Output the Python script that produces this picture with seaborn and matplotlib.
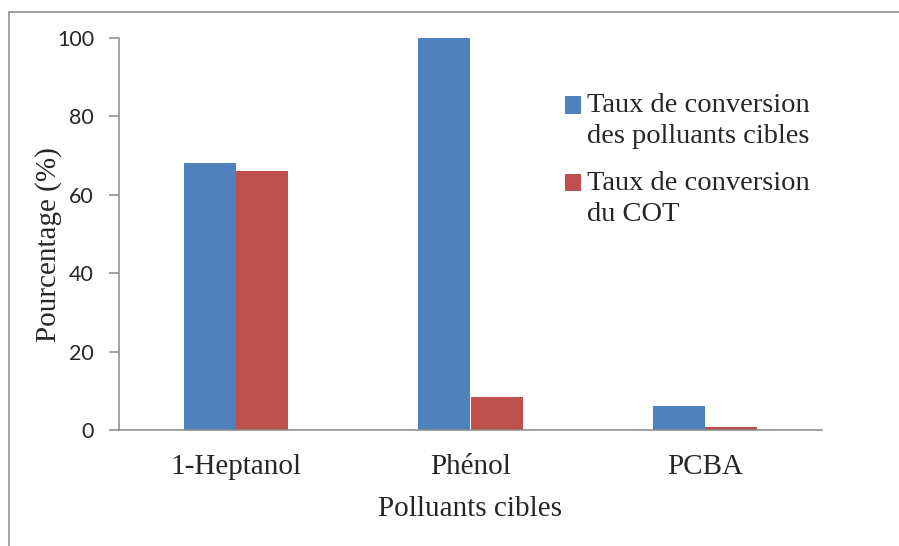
import matplotlib
matplotlib.use("Agg")
import matplotlib.pyplot as plt
import seaborn as sns
import pandas as pd
from matplotlib.lines import Line2D
from matplotlib.patches import Rectangle
from matplotlib.legend_handler import HandlerPatch

categories = ["1-Heptanol", "Phénol", "PCBA"]
series_names = ["Taux de conversion\ndes polluants cibles", "Taux de conversion\ndu COT"]
conv_polluants = [68, 100, 6]
conv_cot = [66, 8.3, 0.7]
y_ticks = [0, 20, 40, 60, 80, 100]
colors = ["#4F81BD", "#C0504D"]

rows = []
for c, v in zip(categories, conv_polluants):
    rows.append({"cat": c, "serie": series_names[0], "val": v})
for c, v in zip(categories, conv_cot):
    rows.append({"cat": c, "serie": series_names[1], "val": v})
df = pd.DataFrame(rows)

sns.set_style("white")
plt.rcParams['font.family'] = ['Liberation Serif', 'DejaVu Serif']

fig = plt.figure(figsize=(8.99, 5.46), dpi=100)
ax = fig.add_axes([119/899, 1-430/546, (822-119)/899, (430-38)/546])

sns.barplot(data=df, x="cat", y="val", hue="serie", palette=colors,
            width=0.445, ax=ax, saturation=1, edgecolor="none", linewidth=0,
            legend=True)

ax.set_ylim(0, 100)
ax.set_xlim(-0.5, 2.5)
ax.set_yticks(y_ticks)
ax.set_yticklabels([str(t) for t in y_ticks], family=['Lato', 'DejaVu Sans'], fontsize=15.5)
ax.set_xticks(range(len(categories)))
ax.set_xticklabels(categories, fontsize=21)
ax.set_xticks([-0.5, 0.5, 1.5, 2.5], minor=True)
ax.tick_params(axis='x', which='major', length=0, pad=17)
ax.tick_params(axis='x', which='minor', length=7, width=1.1, color="#898989", direction='out')
ax.tick_params(axis='y', which='major', length=7, width=1.1, color="#898989", direction='out', pad=11, left=True)

gray = "#898989"
for s in ["top", "right"]:
    ax.spines[s].set_visible(False)
for s in ["left", "bottom"]:
    ax.spines[s].set_color(gray)
    ax.spines[s].set_linewidth(1.1)

ax.set_xlabel("Polluants cibles", fontsize=21, labelpad=12)
ax.set_ylabel("Pourcentage (%)", fontsize=21)
ax.yaxis.set_label_coords((62 - 119) / 703, (430 - 245) / 392)


def top_square(legend, orig_handle, xdescent, ydescent, width, height, fontsize):
    return Rectangle((-xdescent, -ydescent + 0.55 * fontsize), width, height)


leg = ax.legend(loc="upper left", bbox_to_anchor=((554-119)/(822-119), (430-82)/(430-38)),
                frameon=False, fontsize=20.5, handlelength=0.55, handleheight=0.55,
                handletextpad=0.22, labelspacing=0.78, borderaxespad=0,
                handler_map={Rectangle: HandlerPatch(patch_func=top_square)})
for t in leg.get_texts():
    t.set_linespacing(1.3)

# figure border (left and top visible)
fig.add_artist(Line2D([9/899, 9/899], [0, 1-12/546], transform=fig.transFigure, color=gray, lw=1.1))
fig.add_artist(Line2D([9/899, 1], [1-12/546, 1-12/546], transform=fig.transFigure, color=gray, lw=1.1))

fig.savefig("out.png", dpi=100)
